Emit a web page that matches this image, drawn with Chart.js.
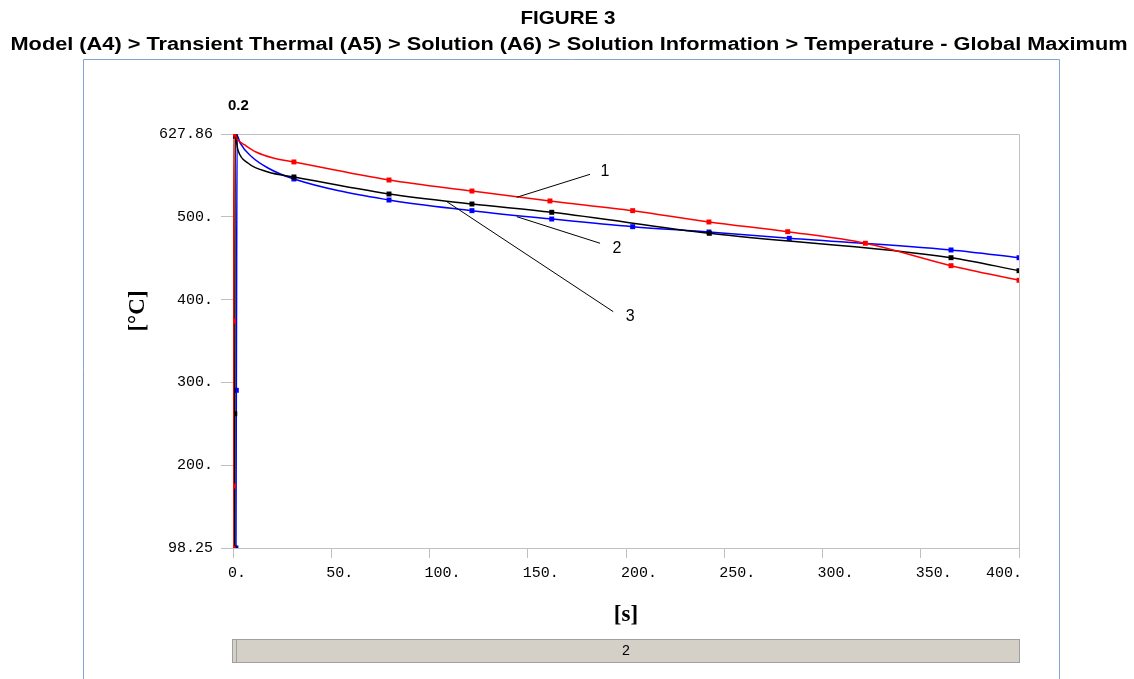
<!DOCTYPE html>
<html>
<head>
<meta charset="utf-8">
<script src="https://cdn.jsdelivr.net/npm/chart.js@4.4.1/dist/chart.umd.min.js"></script>
<style>
  body { margin: 0; background: #fff; }
  canvas { display: block; }
</style>
</head>
<body>
<canvas id="graphId" width="1134" height="679"></canvas>
<script>
// values (time in s, temperature in degC)
var timeRed = [0, 0.1, 0.2, 0.5, 2.5, 6, 12, 20, 31, 79.4, 121.6, 161.3, 203.4, 242.2, 282.3, 321.8, 365.4, 400];
var tempRed = [98.25, 177.6, 388.6, 627.86, 620.2, 613.8, 604.5, 597.5, 592.1, 569.0, 554.9, 542.2, 529.8, 515.3, 502.9, 488.1, 459.4, 440.7];

var timeBlack = [0.8, 0.9, 1.1, 2.5, 7.6, 17.8, 31, 79.4, 121.6, 162.2, 242.4, 365.4, 400];
var tempBlack = [98.25, 270, 625, 607.4, 590.8, 579.3, 572.9, 551.1, 538.3, 527.7, 500.8, 469.6, 453.0];

var timeBlue = [1.5, 1.7, 2.1, 3.6, 9.5, 17.8, 31, 79.4, 121.6, 162.2, 203.4, 242.2, 283.1, 365.4, 400];
var tempBlue = [98.25, 300, 626, 616.4, 598.8, 584.4, 570.3, 543.4, 529.8, 519.1, 509.3, 502.5, 494.4, 479.5, 469.6];

var yMin = 98.25;
var yMax = 627.86;
var yTickLabels = ['98.25', '200.', '300.', '400.', '500.', '627.86'];
var xTickValues = [0, 50, 100, 150, 200, 250, 300, 350, 400];
var xTickLabels = ['0.', '50.', '100.', '150.', '200.', '250.', '300.', '350.', '400.'];

var calloutLabels = ['1', '2', '3'];
var calloutFrom = [[144.4, 546.9], [144.4, 522.1], [108.8, 541.3]];
var calloutTo = [[181.7, 576.3], [186.8, 488.1], [193.5, 400.6]];

var cursorTime = 0.2;
var cursorLabel = '0.2';
var stepLabel = '2';
var titleText = 'FIGURE 3';
var subtitleText = 'Model (A4) > Transient Thermal (A5) > Solution (A6) > Solution Information > Temperature - Global Maximum';

function toPoints(xs, ys) {
    var pts = [];
    for (var i = 0; i < xs.length; i++) {
        pts.push({x: xs[i], y: ys[i]});
    }
    return pts;
}

function markerSize(ctx) {
    var t = ctx.raw ? ctx.raw.x : 0;
    return (t > 1.8 && t < 25) ? 0 : 3.5;
}

function makeSet(name, xs, ys, color) {
    return {
        label: name,
        data: toPoints(xs, ys),
        borderColor: color,
        backgroundColor: color,
        borderWidth: 1.5,
        pointStyle: 'rect',
        pointRadius: markerSize,
        pointBorderWidth: 0,
        cubicInterpolationMode: 'monotone',
        fill: false
    };
}

var monoFont = '"Liberation Mono", "DejaVu Sans Mono", monospace';

function drawWide(ctx, text, cx, y, width) {
    // stretch text horizontally to the measured width of the original
    var w = ctx.measureText(text).width;
    ctx.save();
    ctx.translate(cx, y);
    ctx.scale(width / w, 1);
    ctx.textAlign = 'center';
    ctx.fillText(text, 0, 0);
    ctx.restore();
}

var decorations = {
    id: 'decorations',
    beforeDatasetsDraw: function(chart) {
        var ctx = chart.ctx;
        var a = chart.chartArea;
        ctx.save();
        ctx.strokeStyle = '#c0c0c0';
        ctx.lineWidth = 1;
        ctx.beginPath();
        ctx.moveTo(a.left, a.top + 0.5);
        ctx.lineTo(a.right + 0.5, a.top + 0.5);
        ctx.lineTo(a.right + 0.5, a.bottom);
        ctx.stroke();
        ctx.restore();
    },
    afterDraw: function(chart) {
        var ctx = chart.ctx;
        var a = chart.chartArea;
        var xs = chart.scales.x;
        var ys = chart.scales.y;
        ctx.save();

        // headings
        ctx.fillStyle = '#000';
        ctx.textBaseline = 'middle';
        ctx.font = 'bold 18px "Liberation Sans", Arial, sans-serif';
        drawWide(ctx, titleText, 568, 19, 95);
        drawWide(ctx, subtitleText, 569, 45, 1117);

        // outer panel
        ctx.strokeStyle = '#86a2cf';
        ctx.lineWidth = 1;
        ctx.beginPath();
        ctx.moveTo(83.5, 700);
        ctx.lineTo(83.5, 59.5);
        ctx.lineTo(1059.5, 59.5);
        ctx.lineTo(1059.5, 700);
        ctx.stroke();

        // x tick labels
        ctx.font = '15px ' + monoFont;
        ctx.textBaseline = 'top';
        for (var i = 0; i < xTickValues.length; i++) {
            var px = xs.getPixelForValue(xTickValues[i]);
            if (i === xTickValues.length - 1) {
                ctx.textAlign = 'right';
                ctx.fillText(xTickLabels[i], px + 3, 566);
            } else {
                ctx.textAlign = 'left';
                ctx.fillText(xTickLabels[i], px - 5, 566);
            }
        }

        // axis titles
        ctx.font = 'bold 23px "Liberation Serif", "DejaVu Serif", serif';
        ctx.textAlign = 'center';
        ctx.textBaseline = 'middle';
        ctx.fillText('[s]', (a.left + a.right) / 2, 615);
        ctx.save();
        ctx.translate(138, (a.top + a.bottom) / 2 - 30);
        ctx.rotate(-Math.PI / 2);
        ctx.fillText('[\u00B0C]', 0, 0);
        ctx.restore();

        // time cursor value
        ctx.font = 'bold 15px "Liberation Sans", Arial, sans-serif';
        ctx.fillText(cursorLabel, xs.getPixelForValue(cursorTime) + 5, 106);

        // callouts
        ctx.strokeStyle = '#000';
        ctx.lineWidth = 1;
        ctx.font = '16px "Liberation Sans", Arial, sans-serif';
        var textOff = [[15, -3], [17, 5], [17, 5]];
        for (var k = 0; k < calloutLabels.length; k++) {
            var x0 = xs.getPixelForValue(calloutFrom[k][0]);
            var y0 = ys.getPixelForValue(calloutFrom[k][1]);
            var x1 = xs.getPixelForValue(calloutTo[k][0]);
            var y1 = ys.getPixelForValue(calloutTo[k][1]);
            ctx.beginPath();
            ctx.moveTo(x0, y0);
            ctx.lineTo(x1, y1);
            ctx.stroke();
            ctx.fillText(calloutLabels[k], x1 + textOff[k][0], y1 + textOff[k][1]);
        }

        // step bar under the plot
        ctx.fillStyle = '#d4d0c8';
        ctx.fillRect(a.left, 639, a.right - a.left, 23);
        ctx.strokeStyle = '#a0a0a0';
        ctx.strokeRect(a.left - 0.5, 639.5, a.right - a.left + 1, 23);
        ctx.beginPath();
        ctx.moveTo(a.left + 3.5, 640);
        ctx.lineTo(a.left + 3.5, 662);
        ctx.stroke();
        ctx.fillStyle = '#000';
        ctx.font = '14px ' + monoFont;
        ctx.fillText(stepLabel, (a.left + a.right) / 2, 651);

        ctx.restore();
    }
};

// Chart.js paints the first dataset on top, so red comes first
var myChart = new Chart(document.getElementById('graphId').getContext('2d'), {
    type: 'line',
    data: {
        datasets: [
            makeSet('1', timeRed, tempRed, '#ff0000'),
            makeSet('2', timeBlack, tempBlack, '#000000'),
            makeSet('3', timeBlue, tempBlue, '#0000ff')
        ]
    },
    options: {
        responsive: false,
        animation: false,
        layout: { padding: { left: 0, right: 115, top: 134, bottom: 0 } },
        plugins: {
            legend: { display: false },
            tooltip: { enabled: false },
            title: { display: false }
        },
        scales: {
            x: {
                type: 'linear',
                min: 0,
                max: 400,
                afterBuildTicks: function(scale) {
                    scale.ticks = xTickValues.map(function(v) { return {value: v}; });
                },
                afterFit: function(scale) { scale.height = 131; },
                ticks: { display: false },
                grid: { drawOnChartArea: false, color: '#c0c0c0', tickLength: 10 },
                border: { color: '#c0c0c0' }
            },
            y: {
                type: 'linear',
                min: yMin,
                max: yMax,
                afterBuildTicks: function(scale) {
                    var step = (yMax - yMin) / (yTickLabels.length - 1);
                    scale.ticks = yTickLabels.map(function(l, i) { return {value: yMin + i * step}; });
                },
                afterFit: function(scale) { scale.width = 233; },
                ticks: {
                    color: '#000',
                    padding: 8,
                    font: { family: monoFont, size: 15 },
                    callback: function(v, i) { return yTickLabels[i]; }
                },
                grid: { drawOnChartArea: false, color: '#c0c0c0', tickLength: 12 },
                border: { color: '#c0c0c0' }
            }
        }
    },
    plugins: [decorations]
});
</script>
</body>
</html>
